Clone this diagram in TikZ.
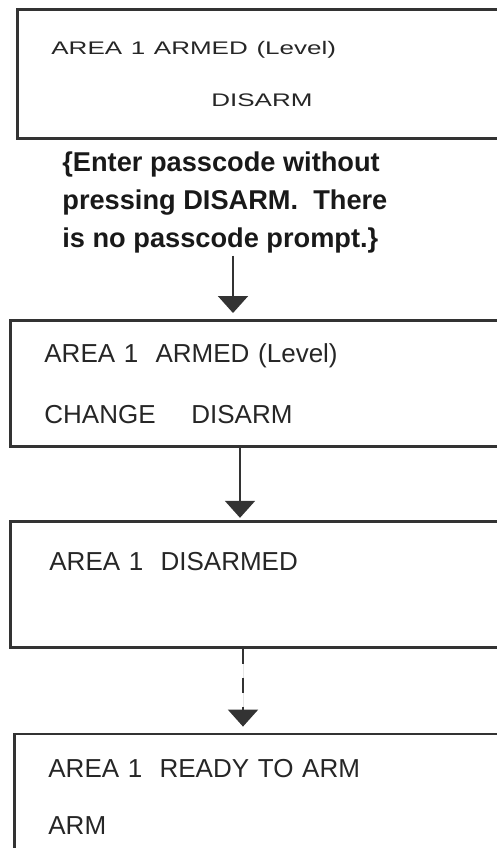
\documentclass[tikz,border=0pt]{standalone}
\usepackage{fontspec}
\setmainfont{Liberation Sans}
\usepackage{graphicx}
\usepackage{xcolor}
\usepackage{tikz}
\usetikzlibrary{arrows.meta, positioning}

\begin{document}
\begin{tikzpicture}[
    x=0.5pt, y=0.5pt,
    font={\fontsize{13}{16}\selectfont},
    >={Triangle[width=15pt, length=8.5pt]},
    screen/.style={
      draw=black!80,
      line width=1.4pt,
      align=left,
      text width=232pt,
      inner xsep=17pt,
      minimum height=63pt,
      text=black!85
    },
    remark/.style={
      font={\fontsize{13.6}{19}\selectfont\bfseries},
      align=left,
      inner sep=0pt,
      text=black!90
    },
    arrow/.style={->, line width=1pt, draw=black!80, fill=black!85}
]

\useasboundingbox (0,0) rectangle (497,-848);
\clip (0,0) rectangle (497,-848);

% 1) First armed screen (squeezed in the scan)
\node[screen, minimum height=64.5pt, anchor=north west] (armedBox) at (16,-8)
{\scalebox{1}[0.7]{AREA 1 ARMED (Level)}\\[10pt]\hspace*{80pt}\scalebox{1}[0.7]{DISARM}};

% 2) Passcode hint
\node[remark, below right=6pt and 23pt of armedBox.south west] (entryNote)
{\{Enter passcode without\\pressing DISARM.\ \ There\\is no passcode prompt.\}};

% 3) Armed screen with CHANGE key
\node[screen, anchor=north west] (changeBox) at (9,-319)
{AREA 1\ \ ARMED (Level)\\[14.5pt]\makebox[73.5pt][l]{CHANGE}DISARM};

% 4) Disarmed screen
\node[screen, text depth=23pt, below=36pt of changeBox] (disarmedBox)
{\hspace*{2.5pt}AREA 1\ \ DISARMED};

% 5) Ready screen
\node[screen, below=42pt of disarmedBox, xshift=2pt] (readyBox)
{AREA 1\ \ READY TO ARM\\[12.5pt]ARM};

% ARROWS
\coordinate (noteFoot) at ([xshift=85.5pt, yshift=-1pt]entryNote.south west);
\coordinate (changeFoot) at ([xshift=115.5pt]changeBox.south west);
\coordinate (disarmedFoot) at ([xshift=117pt]disarmedBox.south west);

% hint -> armed screen
\draw[arrow, shorten >=3pt] (noteFoot) -- (noteFoot |- changeBox.north);

% armed screen -> disarmed screen
\draw[arrow, shorten >=1pt] (changeFoot) -- (changeFoot |- disarmedBox.north);

% disarmed screen -> ready screen (dashed)
\draw[arrow, dash pattern=on 7.5pt off 7pt, shorten >=3pt] (disarmedFoot) -- (disarmedFoot |- readyBox.north);

\end{tikzpicture}
\end{document}
